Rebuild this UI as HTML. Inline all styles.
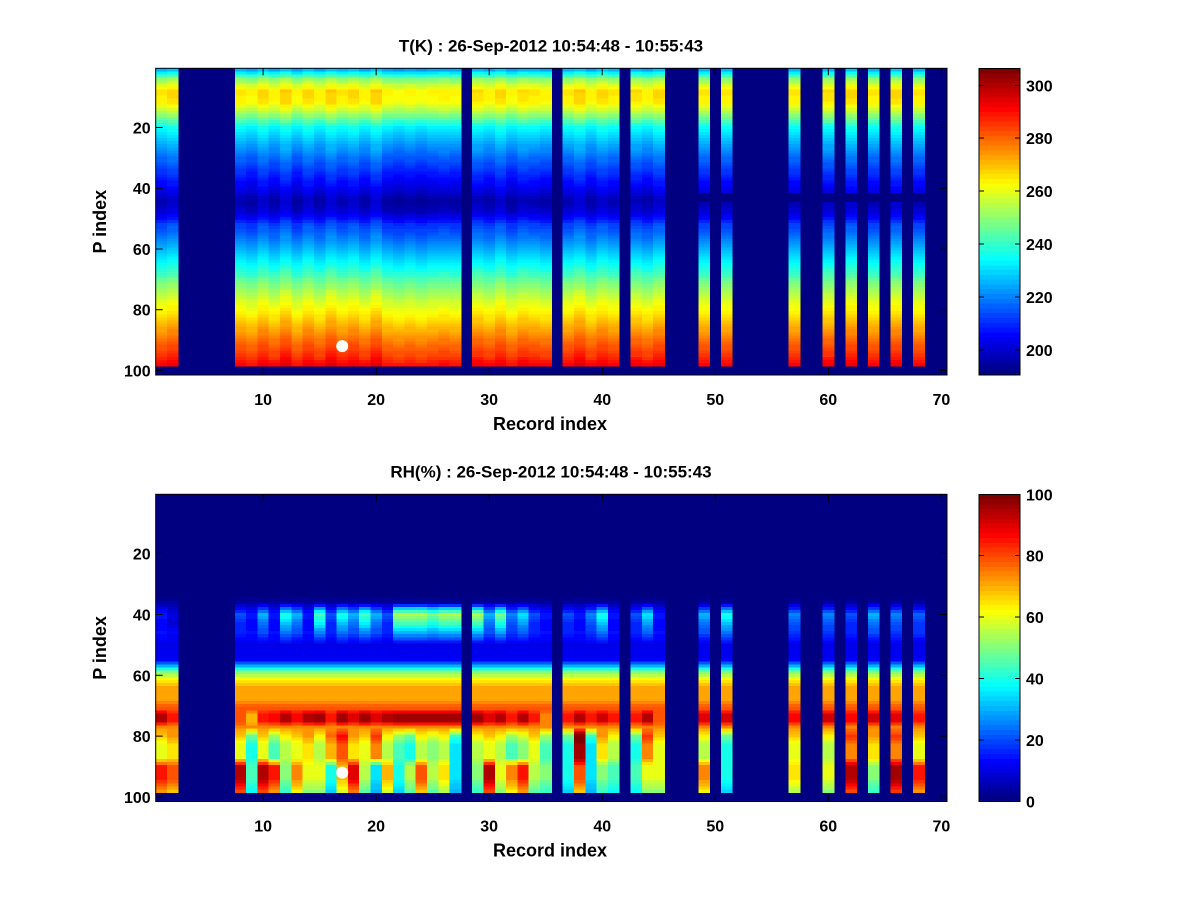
<!DOCTYPE html>
<html><head><meta charset="utf-8"><style>
html,body{margin:0;padding:0;background:#fff;}
svg{display:block;font-family:"Liberation Sans",Arial,sans-serif;font-weight:bold;}
</style></head><body>
<svg id="fig" width="1200" height="900" viewBox="0 0 1200 900">
<rect width="1200" height="900" fill="#fff"/>
</svg>
<script>
// ---------- data ----------
const present = [1,2,8,9,10,11,12,13,14,15,16,17,18,19,20,21,22,23,24,25,26,27,29,30,31,32,33,34,35,37,38,39,40,41,43,44,45,49,51,57,60,62,64,66,68];
const gapCols = [49,51,57,60,62,64,66,68];
const tNodesP = [1,4,8,12,16,20,25,30,35,40,44,48,52,56,60,65,70,75,80,85,90,95,98];
const tNodesV = [225,250,266,264,250,234,225,217,210,203,196,200,212,218,225,234,245,255,263,271,279,286,292];
const tOff = [0,2,0,0,0,0,0,0,-2,2,-1,3,-2,2,-1,3,0,2,-1,3,-2,-3,-2,-3,-2,-1,-2,0,1,-1,2,-2,1,0,-1,0,0,3,-1,2,0,0,1,-1,2,0,0,0,0,0,0,0,0,0,0,0,0,0,0,1,0,2,0,0,0,2,0,0,0,0];
const rhBand = [15,10,0,0,0,0,0,20,15,30,15,40,30,15,45,20,40,30,45,30,20,55,55,55,50,55,55,0,55,30,50,25,35,20,15,0,20,15,25,40,15,0,20,35,15,0,0,0,30,0,40,0,0,0,0,0,25,0,0,25,0,20,0,30,0,25,0,22,0,0];
const rhPeak = [95,85,0,0,0,0,0,80,70,85,88,95,88,95,97,85,97,90,97,90,95,97,97,97,97,97,97,0,97,90,95,85,95,85,75,0,85,95,85,92,85,0,85,95,80,0,0,0,90,0,92,0,0,0,0,0,88,0,0,92,0,88,0,92,0,90,0,85,0,0];
const rhLowA = [60,65,0,0,0,0,0,60,40,60,45,55,60,65,55,70,80,65,60,75,55,45,40,55,50,55,35,0,55,60,55,45,50,60,45,0,40,97,35,65,55,0,40,75,60,0,0,0,55,0,40,0,0,0,0,0,60,0,0,55,0,75,0,65,0,75,0,60,0,0];
const rhLowB = [85,80,0,0,0,0,0,95,45,95,85,50,75,60,60,40,70,90,55,35,70,40,55,80,55,65,35,0,50,95,60,75,85,55,50,0,40,80,35,50,45,0,45,60,60,0,0,0,75,0,40,0,0,0,0,0,65,0,0,60,0,95,0,50,0,97,0,85,0,0];
const tTicks = [200,220,240,260,280,300];
const rhTicks = [0,20,40,60,80,100];
const xTicks = [10,20,30,40,50,60,70];
const yTicks = [20,40,60,80,100];
const dotPoint = [17,92];

// ---------- helpers ----------
const NS="http://www.w3.org/2000/svg";
const svg=document.getElementById('fig');
function mk(tag,attrs,parent){const e=document.createElementNS(NS,tag);for(const k in attrs)e.setAttribute(k,attrs[k]);(parent||svg).appendChild(e);return e;}
function jet(t){t=Math.max(0,Math.min(1,t));t=Math.round(t*63)/63;
  const c=v=>Math.round(255*Math.max(0,Math.min(1,v)));
  return `rgb(${c(1.5-Math.abs(4*t-3))},${c(1.5-Math.abs(4*t-2))},${c(1.5-Math.abs(4*t-1))})`;}
function interp(P,V,p){if(p<=P[0])return V[0];for(let i=1;i<P.length;i++){if(p<=P[i]){const f=(p-P[i-1])/(P[i]-P[i-1]);return V[i-1]+f*(V[i]-V[i-1]);}}return V[V.length-1];}
function tempAt(c,p){return interp(tNodesP,tNodesV,p)+tOff[c-1];}
function rhAt(c,p){const i=c-1;
  const P=[1,34,36,38,40,43,46,50,55,57,59,61,64,68,71,73,75,77,80,83,87,90,94,98];
  const V=[0,0,3,rhBand[i]*0.6,rhBand[i],rhBand[i]*0.8,rhBand[i]*0.4+8,10,12,30,50,62,72,72,80,rhPeak[i],rhPeak[i],74,rhLowA[i]+8,rhLowA[i],rhLowA[i],rhLowB[i],rhLowB[i],rhLowB[i]*0.85];
  return interp(P,V,p);}

const X0=155.7,X1=947,XMIN=0.5,XMAX=70.5;
function xs(v){return X0+(v-XMIN)/(XMAX-XMIN)*(X1-X0);}

function panel(top,bot,title,valFn,vmin,vmax,cTicks,name,useGap){
  const YMIN=0.5,YMAX=101.5;
  const ys=v=>top+(v-YMIN)/(YMAX-YMIN)*(bot-top);
  const g=mk('g',{});
  
  
  const bg=mk('rect',{x:X0,y:top,width:X1-X0,height:bot-top,fill:jet(0)},g);
  
  
  const cells=mk('g',{'shape-rendering':'crispEdges'},g);
  
  
  present.forEach(c=>{
    for(let p=1;p<=98;p++){
      if(useGap&&gapCols.includes(c)&&p>=42&&p<=44)continue;
      const v=valFn(c,p);
      const r=mk('rect',{x:xs(c-0.5).toFixed(2),y:ys(p-0.5).toFixed(2),width:(xs(c+0.5)-xs(c-0.5)+0.4).toFixed(2),height:(ys(p+0.5)-ys(p-0.5)+0.4).toFixed(2),fill:jet((v-vmin)/(vmax-vmin))},cells);
      
      
    }
  });
  const dot=mk('circle',{cx:xs(dotPoint[0]),cy:ys(dotPoint[1]),r:6,fill:'#fff'},g);
  
  
  const frame=mk('rect',{x:X0,y:top,width:X1-X0,height:bot-top,fill:'none',stroke:'#000','stroke-width':1},g);
  
  
  xTicks.forEach(t=>{
    const x=xs(t);
    mk('line',{x1:x,y1:bot,x2:x,y2:bot-7,stroke:'#000'},g);
    mk('line',{x1:x,y1:top,x2:x,y2:top+7,stroke:'#000'},g);
    const tx=mk('text',{x:x,y:bot+30,'font-size':16,'text-anchor':'middle'},g);tx.textContent=t;
    
    
  });
  yTicks.forEach(t=>{
    const y=ys(t);
    mk('line',{x1:X0,y1:y,x2:X0+7,y2:y,stroke:'#000'},g);
    mk('line',{x1:X1,y1:y,x2:X1-7,y2:y,stroke:'#000'},g);
    const tx=mk('text',{x:X0-5,y:y+6,'font-size':16,'text-anchor':'end'},g);tx.textContent=t;
    
    
  });
  const ti=mk('text',{x:551,y:top-17,'font-size':17,'text-anchor':'middle'},g);ti.textContent=title;
  
  
  const xl=mk('text',{x:550,y:bot+55,'font-size':18,'text-anchor':'middle'},g);xl.textContent='Record index';
  
  
  const yc=(top+bot)/2;
  const yl=mk('text',{x:106,y:yc,'font-size':18,'text-anchor':'middle',transform:`rotate(-90 106 ${yc})`},g);yl.textContent='P index';
  
  
  // colorbar
  const cb=mk('g',{'shape-rendering':'crispEdges'},g);
  
  
  const CX0=979,CX1=1020,n=64,h=(bot-top)/n;
  for(let i=0;i<n;i++){
    const r=mk('rect',{x:CX0,y:(bot-(i+1)*h).toFixed(2),width:CX1-CX0,height:(h+0.5).toFixed(2),fill:jet(i/63)},cb);
    
    
  }
  mk('rect',{x:CX0,y:top,width:CX1-CX0,height:bot-top,fill:'none',stroke:'#000'},cb);
  const cs=v=>bot-(v-vmin)/(vmax-vmin)*(bot-top);
  cTicks.forEach(t=>{
    const y=cs(t);
    mk('line',{x1:CX0,y1:y,x2:CX0+5,y2:y,stroke:'#000'},cb);
    mk('line',{x1:CX1,y1:y,x2:CX1-5,y2:y,stroke:'#000'},cb);
    const tx=mk('text',{x:CX1+6,y:y+6,'font-size':16},cb);tx.textContent=t;
    
    
  });
}
panel(68.3,375,'T(K) : 26-Sep-2012 10:54:48 - 10:55:43',tempAt,190.6,306.4,tTicks,'temperature',true);
panel(494.3,801.5,'RH(%) : 26-Sep-2012 10:54:48 - 10:55:43',rhAt,0,100,rhTicks,'humidity',false);
</script>
</body></html>
